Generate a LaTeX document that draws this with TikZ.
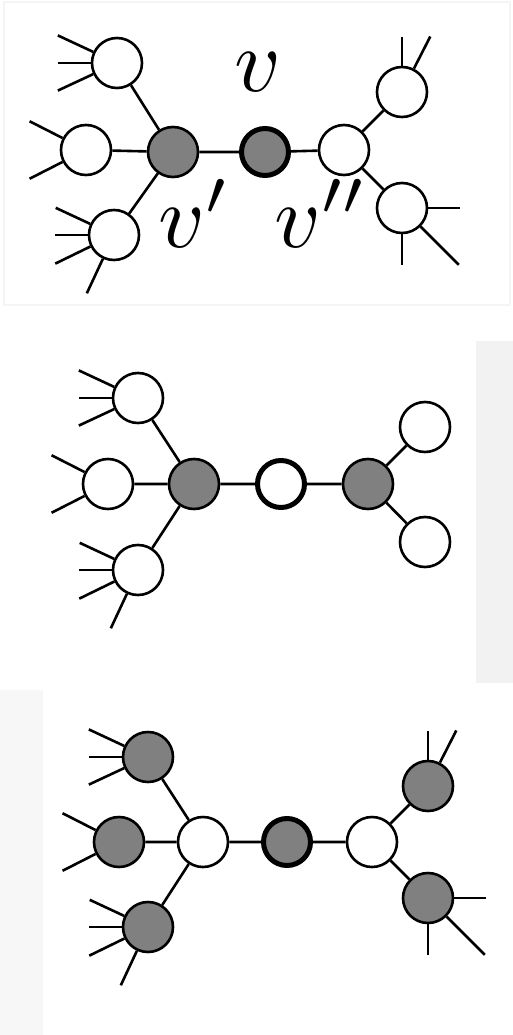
\documentclass[tikz,border=0pt]{standalone}
\usetikzlibrary{positioning}

\tikzset{
  wn/.style={circle, draw=black, fill=white, line width=2.6pt, minimum size=50pt, inner sep=0pt},
  gn/.style={wn, fill=black!50},
  ctr/.style={line width=5pt, minimum size=47pt},
  ed/.style={line width=2.6pt},
  lab/.style={inner sep=0pt, scale=9},
}

\begin{document}
\begin{tikzpicture}[x=1pt, y=1pt]
  \useasboundingbox (0,0) rectangle (513,-1035);
  % faint scan edges
  \draw[black!4, line width=2pt] (4,-2) rectangle (510,-305);
  \fill[black!5] (476,-341) rectangle (513,-683);
  \fill[black!3] (0,-690) rectangle (43,-1035);

  % top: v, v' and v''
  \begin{scope}[shift={(173,-152)}]
    \node[gn] (pa) at (0,0) {};
    \node[wn] (pa-tl) at (-56,89) {};
    \node[wn] (pa-ml) at (-87,2) {};
    \node[wn] (pa-bl) at (-59,-83) {};
    \node[gn, ctr] (pa-c) at (92,0) {};
    \node[wn] (pb) at (171,2) {};
    \node[wn] (pb-tr) at (229,60) {};
    \node[wn] (pb-br) at (229,-56) {};
    \draw[ed] (pa-tl) -- (pa) (pa-ml) -- (pa) (pa-bl) -- (pa)
              (pa) -- (pa-c) -- (pb) (pb) -- (pb-tr) (pb) -- (pb-br);
    \foreach \a/\l in {155/39,180/33,205/39} \draw[ed] (pa-tl.\a) -- ++(\a:\l);
    \foreach \a/\l in {153/37,207/37} \draw[ed] (pa-ml.\a) -- ++(\a:\l);
    \foreach \a/\l in {155/38,180/33,206/39,245/38} \draw[ed] (pa-bl.\a) -- ++(\a:\l);
    \foreach \a/\l in {90/29,63/36} \draw[ed] (pb-tr.\a) -- ++(\a:\l);
    \foreach \a/\l in {0/32,270/31,-45/54} \draw[ed] (pb-br.\a) -- ++(\a:\l);
    \node[lab, anchor=base west] (lv) at (60,60) {$v$};
    \node[lab, anchor=base west] (lvp) at (-16,-95) {$v'$};
    \node[lab, anchor=base west] (lvpp) at (100,-95) {$v''$};
  \end{scope}

  % middle
  \begin{scope}[shift={(194,-484)}]
    \node[gn] (qa) at (0,0) {};
    \node[wn] (qa-tl) at (-56,86) {};
    \node[wn] (qa-ml) at (-86,0) {};
    \node[wn] (qa-bl) at (-56,-86) {};
    \node[wn, ctr] (qa-c) at (87,0) {};
    \node[gn] (qb) at (174,0) {};
    \node[wn] (qb-tr) at (231,57) {};
    \node[wn] (qb-br) at (231,-58) {};
    \draw[ed] (qa-tl) -- (qa) (qa-ml) -- (qa) (qa-bl) -- (qa)
              (qa) -- (qa-c) -- (qb) (qb) -- (qb-tr) (qb) -- (qb-br);
    \foreach \a/\l in {155/39,180/33,205/39} \draw[ed] (qa-tl.\a) -- ++(\a:\l);
    \foreach \a/\l in {153/37,207/37} \draw[ed] (qa-ml.\a) -- ++(\a:\l);
    \foreach \a/\l in {155/38,180/33,206/39,245/38} \draw[ed] (qa-bl.\a) -- ++(\a:\l);
  \end{scope}

  % bottom
  \begin{scope}[shift={(203,-842)}]
    \node[wn] (ra) at (0,0) {};
    \node[gn] (ra-tl) at (-55,85) {};
    \node[gn] (ra-ml) at (-84,0) {};
    \node[gn] (ra-bl) at (-55,-85) {};
    \node[gn, ctr] (ra-c) at (84,0) {};
    \node[wn] (rb) at (169,0) {};
    \node[gn] (rb-tr) at (225,56) {};
    \node[gn] (rb-br) at (225,-56) {};
    \draw[ed] (ra-tl) -- (ra) (ra-ml) -- (ra) (ra-bl) -- (ra)
              (ra) -- (ra-c) -- (rb) (rb) -- (rb-tr) (rb) -- (rb-br);
    \foreach \a/\l in {155/39,180/33,205/39} \draw[ed] (ra-tl.\a) -- ++(\a:\l);
    \foreach \a/\l in {153/37,207/37} \draw[ed] (ra-ml.\a) -- ++(\a:\l);
    \foreach \a/\l in {155/38,180/33,206/39,245/38} \draw[ed] (ra-bl.\a) -- ++(\a:\l);
    \foreach \a/\l in {90/29,63/36} \draw[ed] (rb-tr.\a) -- ++(\a:\l);
    \foreach \a/\l in {0/32,270/31,-45/54} \draw[ed] (rb-br.\a) -- ++(\a:\l);
  \end{scope}
\end{tikzpicture}
\end{document}
